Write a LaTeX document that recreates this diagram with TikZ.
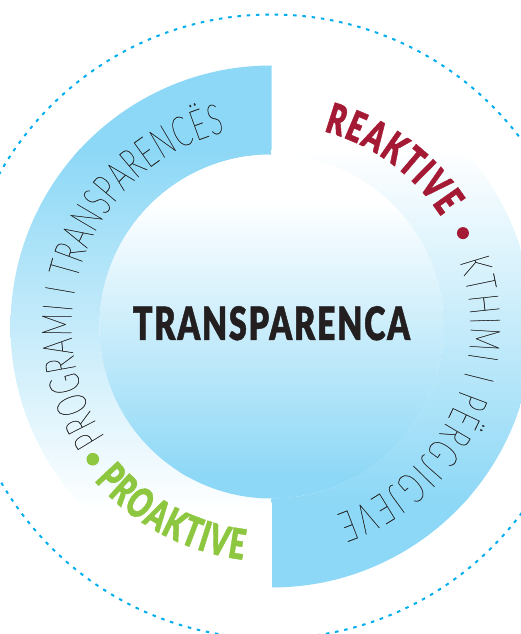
\documentclass[tikz,border=0pt]{standalone}
\usepackage{fontspec}
\usetikzlibrary{decorations.text}
\newfontfamily\thinf[FakeStretch=0.6,FakeBold=0.6]{Lato Hairline}
\newfontfamily\heavyf[FakeStretch=0.66,FakeBold=1]{Lato Black}
\newfontfamily\heavyspaced[FakeStretch=0.70,FakeBold=1,LetterSpace=4]{Lato Black}
\definecolor{ringblue}{RGB}{141,216,246}
\definecolor{dotcyan}{RGB}{0,174,239}
\definecolor{redc}{RGB}{164,26,52}
\definecolor{greenc}{RGB}{141,198,63}
\definecolor{textgray}{RGB}{40,40,40}
\definecolor{darktext}{RGB}{35,31,32}
\tikzset{
  dottedring/.style={draw=dotcyan, line width=2pt, dash pattern=on 3.5pt off 5.8pt},
  thintext/.style={decorate, decoration={text along path, text align=fit to path, text color=textgray,
     text={|\thinf\fontsize{42pt}{42pt}\selectfont|#1}}},
  heavytext/.style 2 args={decorate, decoration={text along path, text align=fit to path, text color=#1,
     text={|\heavyf\fontsize{42pt}{42pt}\selectfont|#2}}},
  bullet/.style={fill=#1}
}
\begin{document}
\begin{tikzpicture}[x=1pt,y=1pt]
\useasboundingbox (-271.5,-307.5) rectangle (249.5,326.5);
\clip (-271.5,-307.5) rectangle (249.5,326.5);
% outer dotted circle
\draw[dottedring] (0,0) circle[radius=312pt];
% left half ring
\begin{scope}
  \clip (0,261) arc[start angle=90,end angle=270,radius=261pt] -- (0,-172) arc[start angle=270,end angle=90,radius=172pt] -- cycle;
  \fill[ringblue] (-270,170) rectangle (0,270);
  \shade[top color=ringblue,bottom color=white] (-270,-185) rectangle (0,176.5);
\end{scope}
% right half ring
\begin{scope}
  \clip (0,-261) arc[start angle=-90,end angle=90,radius=261pt] -- (0,172) arc[start angle=90,end angle=-90,radius=172pt] -- cycle;
  \fill[ringblue] (0,-270) rectangle (270,-170);
  \shade[top color=white,bottom color=ringblue] (0,-176) rectangle (270,176.5);
\end{scope}
% inner disc
\begin{scope}
  \clip (0,0) circle[radius=172pt];
  \fill[ringblue] (-180,-180) rectangle (180,-145);
  \fill[white] (-180,120) rectangle (180,180);
  \shade[top color=white,bottom color=ringblue] (-180,-150) rectangle (180,125);
\end{scope}
% title
\node[font=\heavyspaced\fontsize{46pt}{46pt}\selectfont, text=darktext, anchor=base, inner sep=0pt] (title) at (0,-13.5) {TRANSPARENCA};
% arc texts
\path[thintext={PROGRAMI I TRANSPARENCËS}] (213.5:200pt) arc[start angle=213.5,end angle=103.5,radius=200pt];
\path[thintext={KTHIMI I PËRGJIGJEVE}] (19:199pt) arc[start angle=19,end angle=-71,radius=199pt];
\path[heavytext={redc}{REAKTIVE}] (75:202pt) arc[start angle=75,end angle=33,radius=202pt];
\path[heavytext={greenc}{PROAKTIVE}] (221:235pt) arc[start angle=221,end angle=263,radius=235pt];
% bullets
\fill[bullet=redc] (26:213pt) circle[radius=6pt];
\fill[bullet=greenc] (216.6:222.6pt) circle[radius=6.3pt];
\end{tikzpicture}
\end{document}
